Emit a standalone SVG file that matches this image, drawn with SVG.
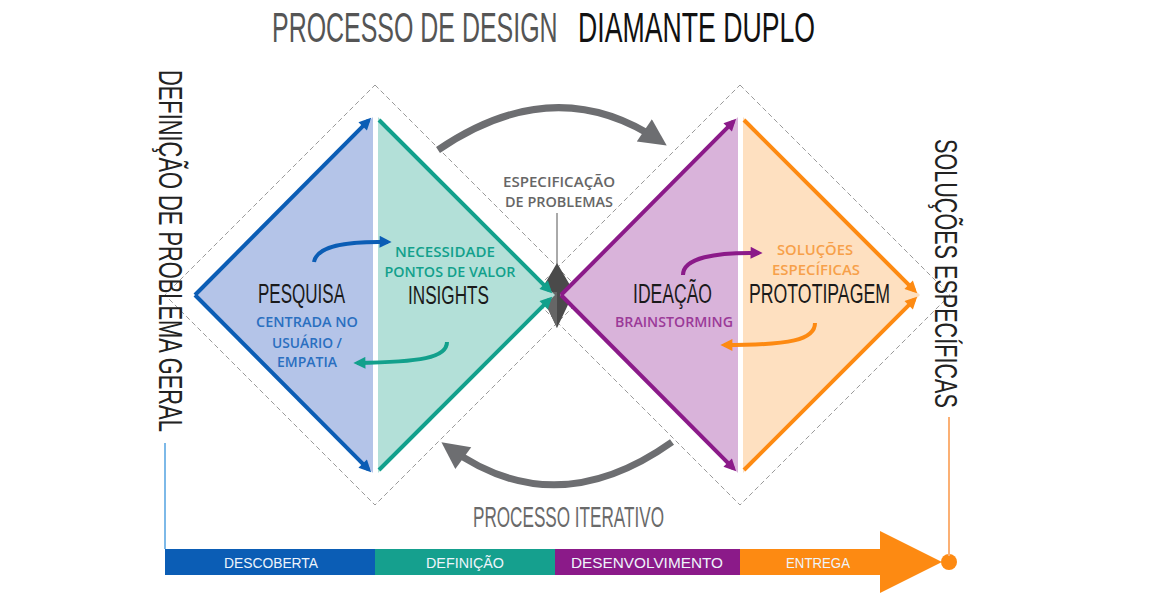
<svg xmlns="http://www.w3.org/2000/svg" width="1160" height="600" viewBox="0 0 1160 600">
<style>
.cond{font-family:"Liberation Sans","DejaVu Sans",sans-serif;}
.lab{font-family:"Open Sans","Liberation Sans",sans-serif;font-weight:600;font-size:14px;text-anchor:middle;}
.bar{font-family:"Liberation Sans","DejaVu Sans",sans-serif;font-size:15px;fill:#eef4fb;text-anchor:middle;}
.dash{fill:none;stroke:#9a9a9a;stroke-width:1;stroke-dasharray:5 3;}
.edge{fill:none;stroke-width:4;stroke-linecap:butt;}
.big{fill:none;stroke:#6d6e71;stroke-width:7;}
</style>
<defs>
<marker id="mBlue" viewBox="0 0 10 10" refX="7" refY="5" markerUnits="userSpaceOnUse" markerWidth="15" markerHeight="12" orient="auto"><path d="M0,0 L10,5 L0,10 z" fill="#0b5db5"/></marker>
<marker id="mTeal" viewBox="0 0 10 10" refX="7" refY="5" markerUnits="userSpaceOnUse" markerWidth="15" markerHeight="12" orient="auto"><path d="M0,0 L10,5 L0,10 z" fill="#12a08c"/></marker>
<marker id="mPurple" viewBox="0 0 10 10" refX="7" refY="5" markerUnits="userSpaceOnUse" markerWidth="15" markerHeight="12" orient="auto"><path d="M0,0 L10,5 L0,10 z" fill="#8b1a89"/></marker>
<marker id="mOrange" viewBox="0 0 10 10" refX="7" refY="5" markerUnits="userSpaceOnUse" markerWidth="15" markerHeight="12" orient="auto"><path d="M0,0 L10,5 L0,10 z" fill="#fd8a12"/></marker>
<marker id="mGray" viewBox="0 0 10 10" refX="7" refY="5" markerUnits="userSpaceOnUse" markerWidth="30" markerHeight="27" orient="auto"><path d="M0,0 L10,5 L0,10 z" fill="#6d6e71"/></marker>
</defs>
<rect width="1160" height="600" fill="#ffffff"/>

<g id="title">
<text class="cond" transform="translate(272,42) scale(0.6,1)" x="0" y="0" font-size="42" fill="#555555" textLength="476" lengthAdjust="spacingAndGlyphs">PROCESSO DE DESIGN</text>
<text class="cond" transform="translate(578,42) scale(0.6,1)" x="0" y="0" font-size="42" fill="#111111" textLength="395" lengthAdjust="spacingAndGlyphs">DIAMANTE DUPLO</text>
</g>

<g id="outlines">
<polygon class="dash" points="375,85 585,295 375,505 165,295"/>
<polygon class="dash" points="740,85 950,295 740,505 530,295"/>
</g>

<g id="center-point">
<polygon points="557,263 574,292 557,328 540,292" fill="#4a4a4a"/>
<polygon points="540,292 557,292 557,328" fill="#666666"/>
</g>

<g id="descoberta">
<polygon points="195,295 373,117 373,473" fill="#b4c4e8"/>
<path class="edge" stroke="#0b5db5" d="M195,295 L368.6,120.4" marker-end="url(#mBlue)"/>
<path class="edge" stroke="#0b5db5" d="M195,295 L368.6,469.6" marker-end="url(#mBlue)"/>
<text class="cond" x="258" y="303" font-size="27" fill="#1a1a1a" textLength="87" lengthAdjust="spacingAndGlyphs">PESQUISA</text>
<text class="lab" x="307" y="327" fill="#2a6fc0" textLength="102" lengthAdjust="spacingAndGlyphs">CENTRADA NO</text>
<text class="lab" x="307" y="348" fill="#2a6fc0" textLength="70" lengthAdjust="spacingAndGlyphs">USUÁRIO /</text>
<text class="lab" x="307" y="367" fill="#2a6fc0" textLength="60" lengthAdjust="spacingAndGlyphs">EMPATIA</text>
</g>

<g id="definicao">
<polygon points="378,117 555,295 378,473" fill="#b3e0d8"/>
<path class="edge" stroke="#12a08c" d="M379,120 L549.6,290.6" marker-end="url(#mTeal)"/>
<path class="edge" stroke="#12a08c" d="M379,470 L549.6,299.4" marker-end="url(#mTeal)"/>
<text class="lab" x="445" y="257" fill="#12a08c" textLength="100" lengthAdjust="spacingAndGlyphs">NECESSIDADE</text>
<text class="lab" x="450" y="277" fill="#12a08c" textLength="131" lengthAdjust="spacingAndGlyphs">PONTOS DE VALOR</text>
<text class="cond" x="408" y="304" font-size="26" fill="#1a1a1a" textLength="81" lengthAdjust="spacingAndGlyphs">INSIGHTS</text>
</g>

<g id="desenvolvimento">
<polygon points="560,295 738,117 738,473" fill="#d9b3da"/>
<path class="edge" stroke="#8b1a89" d="M561,295 L733.6,121.4" marker-end="url(#mPurple)"/>
<path class="edge" stroke="#8b1a89" d="M561,295 L733.6,468.6" marker-end="url(#mPurple)"/>
<text class="cond" x="633" y="303" font-size="27" fill="#1a1a1a" textLength="79" lengthAdjust="spacingAndGlyphs">IDEAÇÃO</text>
<text class="lab" x="674" y="327" fill="#9b3a98" textLength="118" lengthAdjust="spacingAndGlyphs">BRAINSTORMING</text>
</g>

<g id="entrega">
<polygon points="743,117 920,295 743,473" fill="#fee0c0"/>
<path class="edge" stroke="#fd8a12" d="M744,120 L914.6,290.6" marker-end="url(#mOrange)"/>
<path class="edge" stroke="#fd8a12" d="M744,470 L914.6,299.4" marker-end="url(#mOrange)"/>
<text class="lab" x="815" y="255" fill="#f7a04a" textLength="76" lengthAdjust="spacingAndGlyphs">SOLUÇÕES</text>
<text class="lab" x="816" y="275" fill="#f7a04a" textLength="88" lengthAdjust="spacingAndGlyphs">ESPECÍFICAS</text>
<text class="cond" x="749" y="303" font-size="27" fill="#1a1a1a" textLength="141" lengthAdjust="spacingAndGlyphs">PROTOTIPAGEM</text>
</g>

<g id="especificacao">
<text class="lab" x="559" y="187" fill="#666666" font-weight="400" textLength="112" lengthAdjust="spacingAndGlyphs">ESPECIFICAÇÃO</text>
<text class="lab" x="559" y="207" fill="#666666" font-weight="400" textLength="108" lengthAdjust="spacingAndGlyphs">DE PROBLEMAS</text>
</g>

<g id="iterativo">
<text class="cond" x="473" y="527" font-size="29" fill="#6a6a6a" textLength="191" lengthAdjust="spacingAndGlyphs">PROCESSO ITERATIVO</text>
</g>

<g id="problema-geral">
<text class="cond" transform="translate(159,70) rotate(90) scale(0.6,1)" x="0" y="0" font-size="34" fill="#222222" textLength="603" lengthAdjust="spacingAndGlyphs">DEFINIÇÃO DE PROBLEMA GERAL</text>
</g>

<g id="solucoes">
<text class="cond" transform="translate(935,139) rotate(90) scale(0.6,1)" x="0" y="0" font-size="32" fill="#222222" textLength="448" lengthAdjust="spacingAndGlyphs">SOLUÇÕES ESPECÍFICAS</text>
</g>

<g id="timeline">
<rect x="165" y="549" width="210" height="26" fill="#0b5db5"/>
<rect x="375" y="549" width="180" height="26" fill="#15a08e"/>
<rect x="555" y="549" width="185" height="26" fill="#8b1a89"/>
<rect x="740" y="549" width="142" height="26" fill="#fd8a12"/>
<polygon points="880,531 942,562 880,593" fill="#fd8a12"/>
<circle cx="949" cy="562" r="8" fill="#fd8a12"/>
<text class="bar" x="271" y="568" textLength="94" lengthAdjust="spacingAndGlyphs">DESCOBERTA</text>
<text class="bar" x="465" y="568" textLength="78" lengthAdjust="spacingAndGlyphs">DEFINIÇÃO</text>
<text class="bar" x="647" y="568" textLength="152" lengthAdjust="spacingAndGlyphs">DESENVOLVIMENTO</text>
<text class="bar" x="818" y="568" textLength="64" lengthAdjust="spacingAndGlyphs">ENTREGA</text>
</g>

<g id="connectors">
<path class="big" d="M438,150 Q555,70 660,141" marker-end="url(#mGray)"/>
<path class="big" d="M672,442 Q555,525 448,447" marker-end="url(#mGray)"/>
<path fill="none" stroke="#0b5db5" stroke-width="4" d="M314,262 C317,246 345,241 388,242" marker-end="url(#mBlue)"/>
<path fill="none" stroke="#12a08c" stroke-width="4" d="M447,342 C447,358 420,362 357,363" marker-end="url(#mTeal)"/>
<path fill="none" stroke="#8b1a89" stroke-width="4" d="M683,275 C683,258 715,252 759,253" marker-end="url(#mPurple)"/>
<path fill="none" stroke="#fd8a12" stroke-width="4" d="M815,323 C815,340 790,345 724,345" marker-end="url(#mOrange)"/>
<line x1="557" y1="213" x2="557" y2="265" stroke="#555555" stroke-width="1"/>
<line x1="165" y1="443" x2="165" y2="549" stroke="#7db9e8" stroke-width="2"/>
<line x1="949" y1="417" x2="949" y2="556" stroke="#fbb074" stroke-width="2"/>
</g>
</svg>
